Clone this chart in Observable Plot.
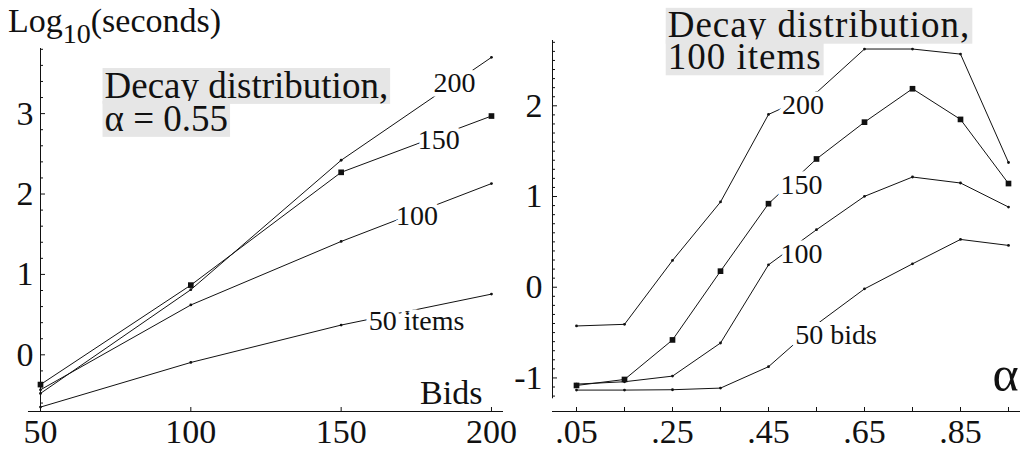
<!DOCTYPE html>
<html><head><meta charset="utf-8">
<script src="https://cdn.jsdelivr.net/npm/d3@7"></script>
<script src="https://cdn.jsdelivr.net/npm/@observablehq/plot@0.6"></script>
<style>
html,body{margin:0;padding:0;background:#fff;}
#wrap{position:relative;width:1023px;height:453px;overflow:hidden;font-family:"Liberation Serif",serif;color:#111;}
#left,#right{position:absolute;top:0;}
#left{left:0;} #right{left:512px;}
#title{position:absolute;left:8px;top:4px;font-size:34px;line-height:34px;white-space:nowrap;}
#title span{font-size:28px;position:relative;top:11px;}
svg{overflow:visible;}
</style></head><body>
<div id="wrap"><div id="left"></div><div id="right"></div><div id="title">Log<span>10</span>(seconds)</div></div>
<script>
// ---------- Left panel data: log10(seconds) vs bids, alpha = 0.55 ----------
const bids = [50, 100, 150, 200];
const items200 = [-0.48, 0.81, 2.42, 3.70];
const items150 = [-0.37, 0.867, 2.27, 2.97];
const items100 = [-0.435, 0.62, 1.41, 2.13];
const items50 = [-0.65, -0.095, 0.37, 0.755];
const leftSeriesNames = ["200", "150", "100", "50"];
const leftLabelText = ["200", "150", "100", "50 items"];
const leftLabelX = [187.7, 182.5, 175.2, 175.1];
const leftLabelY = [3.377, 2.674, 1.729, 0.423];
const leftNoteText = ["Decay distribution,", "\u03b1 = 0.55"];
const leftNoteX = [71.3, 71.3];
const leftNoteY = [3.199, 2.789];
const leftYTicks = [0, 1, 2, 3];

// ---------- Right panel data: log10(seconds) vs alpha, 100 items ----------
const alphas = [0.05, 0.15, 0.25, 0.35, 0.45, 0.55, 0.65, 0.75, 0.85, 0.95];
const bids200 = [-0.427, -0.409, 0.295, 0.94, 1.905, 2.146, 2.626, 2.626, 2.57, 1.375];
const bids150 = [-1.083, -1.017, -0.581, 0.177, 0.921, 1.414, 1.82, 2.188, 1.85, 1.143];
const bids100 = [-1.068, -1.042, -0.98, -0.615, 0.247, 0.634, 1.002, 1.215, 1.149, 0.884];
const bids50 = [-1.134, -1.134, -1.13, -1.112, -0.876, -0.41, -0.018, 0.258, 0.527, 0.461];
const rightSeriesNames = ["200", "150", "100", "50"];
const rightLabelText = ["200", "150", "100", "50 bids"];
const rightLabelX = [0.522, 0.519, 0.519, 0.591];
const rightLabelY = [2.008, 1.124, 0.367, -0.523];
const rightNoteText = ["Decay distribution,", "100 items"];
const rightNoteX = [0.240, 0.240];
const rightNoteY = [2.754, 2.406];
const rightXLabels = [0.05, 0.25, 0.45, 0.65, 0.85];
const rightYTicks = [-1, 0, 1, 2];

// ---------- build tables ----------
const leftRows = [];
[items200, items150, items100, items50].forEach((vals, s) =>
  vals.forEach((v, i) => leftRows.push({series: leftSeriesNames[s], x: bids[i], y: v})));
const rightRows = [];
[bids200, bids150, bids100, bids50].forEach((vals, s) =>
  vals.forEach((v, i) => rightRows.push({series: rightSeriesNames[s], x: alphas[i], y: v})));
const leftLabels = leftLabelText.map((t, i) => ({t, x: leftLabelX[i], y: leftLabelY[i]}));
const rightLabels = rightLabelText.map((t, i) => ({t, x: rightLabelX[i], y: rightLabelY[i]}));
const leftNotes = leftNoteText.map((t, i) => ({t, x: leftNoteX[i], y: leftNoteY[i]}));
const rightNotes = rightNoteText.map((t, i) => ({t, x: rightNoteX[i], y: rightNoteY[i]}));

const leftX = [50, 204], leftY = [-0.705, 3.81];
const rightX = [0, 0.975], rightY = [-1.37, 2.72];
const leftMinor = d3.range(-3, 20).map(i => i / 5).filter(v => !Number.isInteger(v));
const rightMinor = d3.range(-12, 28).map(i => i / 10).filter(v => Math.abs(v - Math.round(v)) > 1e-9);

const ink = "#111";
const style = {fontFamily: "Liberation Serif", fontSize: "34px", color: ink, background: "transparent", overflow: "visible"};

const left = Plot.plot({
  width: 512, height: 453,
  marginLeft: 40, marginRight: 9, marginTop: 48, marginBottom: 42,
  x: {domain: leftX},
  y: {domain: leftY},
  style,
  marks: [
    Plot.ruleY([leftY[0]], {x1: 46, x2: leftX[1], stroke: ink}),
    Plot.ruleX([leftX[0]], {y1: leftY[0], y2: leftY[1], stroke: ink}),
    Plot.axisY(leftMinor, {tickSize: -3, fill: "none", label: null}),
    Plot.axisY(leftYTicks, {tickSize: -5, fill: "none", label: null}),
    Plot.axisY(leftYTicks, {tickSize: 0, tickPadding: 7, label: null, fontSize: 34, tickFormat: d => String(d)}),
    Plot.axisX(bids, {tickSize: -4, fill: "none", label: null}),
    Plot.axisX(bids, {tickSize: 0, tickPadding: 7, label: null, fontSize: 34, tickFormat: d => String(d)}),
    Plot.line(leftRows, {x: "x", y: "y", z: "series", stroke: ink, strokeWidth: 1}),
    Plot.dot(leftRows.filter(d => d.series !== "150"), {x: "x", y: "y", r: 1.4, fill: ink}),
    Plot.dot(leftRows.filter(d => d.series === "150"), {x: "x", y: "y", r: 3.2, symbol: "square", fill: ink}),
    Plot.text(leftLabels, {x: "x", y: "y", text: "t", fontSize: 28, fill: ink, stroke: "white", strokeWidth: 9, paintOrder: "stroke", lineAnchor: "middle", textAnchor: "middle"}),
    Plot.text(["Bids"], {x: 197, y: -0.61, text: d => d, fontSize: 34, fill: ink, textAnchor: "end", lineAnchor: "bottom"}),
    Plot.text(leftNotes, {x: "x", y: "y", text: "t", fontSize: 37, fill: ink, textAnchor: "start", lineAnchor: "bottom"})
  ]
});

const right = Plot.plot({
  width: 511, height: 453,
  marginLeft: 40, marginRight: 3, marginTop: 40, marginBottom: 42,
  x: {domain: rightX},
  y: {domain: rightY},
  style,
  marks: [
    Plot.ruleY([rightY[0]], {x1: rightX[0], x2: rightX[1], stroke: ink}),
    Plot.ruleX([rightX[0]], {y1: -1.23, y2: rightY[1], stroke: ink}),
    Plot.axisY(rightMinor, {tickSize: -3, fill: "none", label: null}),
    Plot.axisY(rightYTicks, {tickSize: -5, fill: "none", label: null}),
    Plot.axisY(rightYTicks, {tickSize: 0, tickPadding: 10, label: null, fontSize: 34, tickFormat: d => String(d)}),
    Plot.axisX(alphas, {tickSize: -4, fill: "none", label: null}),
    Plot.axisX(rightXLabels, {tickSize: 0, tickPadding: 7, label: null, fontSize: 34, tickFormat: d => d.toFixed(2).replace(/^0/, "")}),
    Plot.line(rightRows, {x: "x", y: "y", z: "series", stroke: ink, strokeWidth: 1}),
    Plot.dot(rightRows.filter(d => d.series !== "150"), {x: "x", y: "y", r: 1.4, fill: ink}),
    Plot.dot(rightRows.filter(d => d.series === "150"), {x: "x", y: "y", r: 3.2, symbol: "square", fill: ink}),
    Plot.text(rightLabels, {x: "x", y: "y", text: "t", fontSize: 28, fill: ink, stroke: "white", strokeWidth: 9, paintOrder: "stroke", lineAnchor: "middle", textAnchor: "middle"}),
    Plot.text(["\u03b1"], {x: 0.971, y: -1.141, text: d => d, fontSize: 50, fill: ink, textAnchor: "end", lineAnchor: "bottom"}),
    Plot.text(rightNotes, {x: "x", y: "y", text: "t", fontSize: 37, fill: ink, textAnchor: "start", lineAnchor: "bottom"})
  ]
});

document.getElementById("left").appendChild(left);
document.getElementById("right").appendChild(right);

// grey background behind each line of the annotation boxes
function addBoxes(svg, lines, fs, spacing) {
  svg.querySelectorAll("text").forEach(t => {
    if (!lines.includes(t.textContent)) return;
    if (spacing) t.style.letterSpacing = spacing;
    const b = t.getBBox();
    const r = document.createElementNS("http://www.w3.org/2000/svg", "rect");
    r.setAttribute("x", b.x - 2);
    r.setAttribute("width", b.width + 4);
    r.setAttribute("y", -0.8 * fs);
    r.setAttribute("height", 0.97 * fs);
    r.setAttribute("fill", "#e6e6e6");
    r.setAttribute("stroke", "none");
    const tr = t.getAttribute("transform");
    if (tr) r.setAttribute("transform", tr);
    t.parentNode.insertBefore(r, t);
  });
}
addBoxes(left, leftNoteText, 37, null);
addBoxes(right, rightNoteText, 37, "1px");
</script>
</body></html>
